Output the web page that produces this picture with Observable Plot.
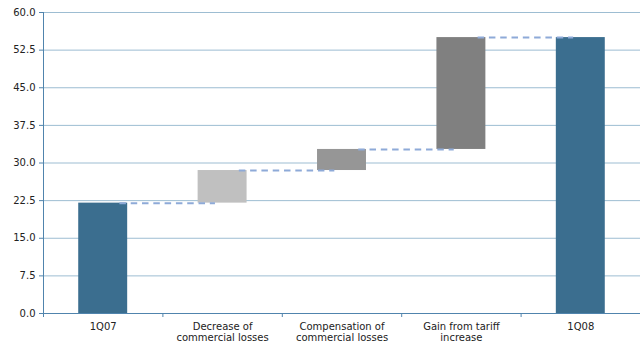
<!DOCTYPE html>
<html>
<head>
<meta charset="utf-8">
<script src="https://cdn.jsdelivr.net/npm/d3@7"></script>
<script src="https://cdn.jsdelivr.net/npm/@observablehq/plot@0.6"></script>
<style>
  html, body { margin: 0; padding: 0; background: #fff; }
</style>
</head>
<body>
<div id="chart"></div>
<script>
// Waterfall: bridge from 1Q07 to 1Q08
const categories = [
  "1Q07",
  "Decrease of\ncommercial losses",
  "Compensation of\ncommercial losses",
  "Gain from tariff\nincrease",
  "1Q08"
];
const barBase = [0, 22.0, 28.5, 32.7, 0];
const barTop = [22.0, 28.5, 32.7, 55.0, 55.0];
const barColors = ["#3b6e8f", "#c0c0c0", "#969696", "#808080", "#3b6e8f"];
const yTicks = [0, 7.5, 15, 22.5, 30, 37.5, 45, 52.5, 60];

const bars = categories.map((c, i) => ({i, y1: barBase[i], y2: barTop[i], color: barColors[i]}));
// dashed connectors carry each running total over to the next bar
const links = barTop.slice(0, -1).map((level, i) => ({i, level}));
const boundaries = d3.range(-0.5, categories.length, 1);

const axisBlue = "#5084ad";

const chart = Plot.plot({
  width: 640,
  height: 345,
  marginLeft: 43,
  marginRight: 0,
  marginTop: 12,
  marginBottom: 32,
  style: {fontFamily: "'DejaVu Sans', Verdana, sans-serif", fontSize: "10px", color: "#222", background: "#fff"},
  x: {type: "linear", domain: [-0.5, categories.length - 0.5], axis: null},
  y: {domain: [0, 60], axis: null},
  marks: [
    Plot.ruleY(yTicks.filter((d) => d > 0), {stroke: "#9dbdd2", strokeWidth: 1}),
    Plot.rectY(bars, {
      x1: (d) => d.i - 0.205,
      x2: (d) => d.i + 0.205,
      y1: "y1",
      y2: "y2",
      fill: (d) => d.color
    }),
    Plot.ruleY(links, {
      y: "level",
      x1: (d) => d.i + 0.14,
      x2: (d) => d.i + 0.94,
      stroke: "#8eaad8",
      strokeWidth: 2,
      strokeDasharray: "6.5,4.8"
    }),
    Plot.ruleX([-0.5], {stroke: axisBlue}),
    Plot.ruleY([0], {stroke: axisBlue}),
    Plot.axisY({
      ticks: yTicks,
      tickFormat: (d) => d.toFixed(1),
      tickSize: 4,
      tickPadding: 4,
      stroke: axisBlue,
      fill: "#222",
      label: null
    }),
    Plot.axisX({
      ticks: boundaries,
      tickSize: 4,
      tickFormat: () => "",
      stroke: axisBlue,
      label: null
    }),
    Plot.axisX({
      ticks: d3.range(categories.length),
      tickFormat: (i) => categories[i],
      tickSize: 0,
      tickPadding: 9,
      lineHeight: 1.1,
      fill: "#222",
      label: null
    })
  ]
});

document.getElementById("chart").appendChild(chart);
</script>
</body>
</html>
